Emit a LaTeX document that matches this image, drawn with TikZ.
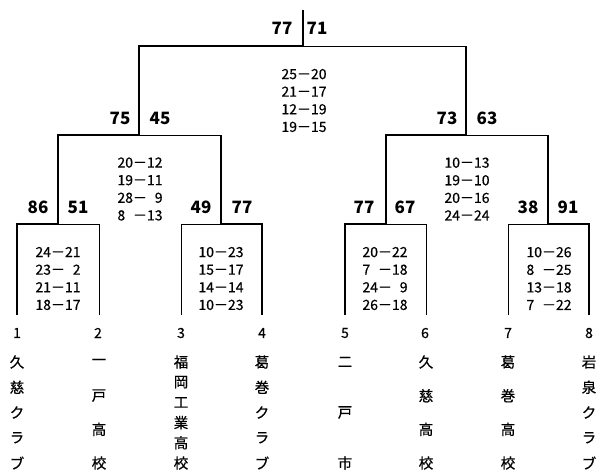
\documentclass[tikz,border=0pt]{standalone}
\usepackage{fontspec}
\setmainfont{Noto Sans CJK JP}
\newfontfamily\setfont{Noto Sans CJK JP}[FakeBold=0.5]
\newsavebox\ddbox
\newcommand\pl[1]{\sbox\ddbox{00}\makebox[\wd\ddbox][l]{#1}}
\newcommand\pr[1]{\sbox\ddbox{00}\makebox[\wd\ddbox][r]{#1}}
\newcommand\dsh{－}
\newcommand\teamcol[4]{%
  \foreach \c [count=\i from 0] in {#4} {
    \node[nm] (#1-\i) at (#2, {362+\i*101/(#3-1)}) {\c};
  }}
\begin{document}
\begin{tikzpicture}[x=1pt,y=-1pt,
  thickline/.style={line width=2.7pt, line join=miter},
  thinline/.style={line width=1pt},
  win/.style={font=\bfseries\fontsize{17}{17}\selectfont, inner sep=0pt},
  sets/.style={font=\setfont\fontsize{14}{17.6}\selectfont, align=left, inner sep=0pt},
  nm/.style={font=\setfont\fontsize{14.5}{14.5}\selectfont, inner sep=0pt},
  num/.style={font=\setfont\fontsize{14}{14}\selectfont, inner sep=0pt}]
\useasboundingbox (0,0) rectangle (599,471);
% coordinates
\coordinate (t1) at (17,315);  \coordinate (t2) at (99,315);
\coordinate (t3) at (181,315); \coordinate (t4) at (262,315);
\coordinate (t5) at (345,315); \coordinate (t6) at (426,315);
\coordinate (t7) at (508,315); \coordinate (t8) at (589,315);
\coordinate (m12) at (58,224);  \coordinate (m34) at (221,224);
\coordinate (m56) at (386,224); \coordinate (m78) at (548,224);
\coordinate (s1) at (139,135);  \coordinate (s2) at (466,135);
\coordinate (f) at (303,46);    \coordinate (top) at (303,10);
% thin lines (losers)
\draw[thinline] (t2) |- (m12);
\draw[thinline] (t3) |- (m34);
\draw[thinline] (t6) |- (m56);
\draw[thinline] (t7) |- (m78);
\draw[thinline] (m34 |- s1) -- (s1);
\draw[thinline] (m78 |- s2) -- (s2);
\draw[thinline] (s2 |- f) -- (f);
% thick lines (winners)
\draw[thickline] (t1) |- (m12) |- (s1) |- (f) -- (top);
\draw[thickline] (t4) |- (m34) -- (m34 |- s1);
\draw[thickline] (t5) |- (m56) |- (s2) -- (s2 |- f);
\draw[thickline] (t8) |- (m78) -- (m78 |- s2);
% match scores
\node[win] (w0a) at (282,28) {77};  \node[win] (w0b) at (317,28) {71};
\node[win] (w1a) at (120,118) {75}; \node[win] (w1b) at (160,118) {45};
\node[win] (w2a) at (447,118) {73}; \node[win] (w2b) at (487,118) {63};
\node[win] (w3a) at (38,207) {86};  \node[win] (w3b) at (78,207) {51};
\node[win] (w4a) at (201,207) {49}; \node[win] (w4b) at (242,207) {77};
\node[win] (w5a) at (364,207) {77}; \node[win] (w5b) at (405,207) {67};
\node[win] (w6a) at (528,207) {38}; \node[win] (w6b) at (568,207) {91};
% set scores
\node[sets] (sF) at (304,100.5) {\pr{25}\dsh\pr{20}\\\pr{21}\dsh\pr{17}\\\pr{12}\dsh\pr{19}\\\pr{19}\dsh\pr{15}};
\node[sets] (sL) at (140,189) {\pr{20}\dsh\pr{12}\\\pr{19}\dsh\pr{11}\\\pr{28}\dsh\pr{9}\\\pl{8}\dsh\pr{13}};
\node[sets] (sR) at (467,189) {\pr{10}\dsh\pr{13}\\\pr{19}\dsh\pr{10}\\\pr{20}\dsh\pr{16}\\\pr{24}\dsh\pr{24}};
\node[sets] (q1) at (58,278.5) {\pr{24}\dsh\pr{21}\\\pr{23}\dsh\pr{2}\\\pr{21}\dsh\pr{11}\\\pr{18}\dsh\pr{17}};
\node[sets] (q2) at (221,278.5) {\pr{10}\dsh\pr{23}\\\pr{15}\dsh\pr{17}\\\pr{14}\dsh\pr{14}\\\pr{10}\dsh\pr{23}};
\node[sets] (q3) at (385,278.5) {\pr{20}\dsh\pr{22}\\\pl{7}\dsh\pr{18}\\\pr{24}\dsh\pr{9}\\\pr{26}\dsh\pr{18}};
\node[sets] (q4) at (549,278.5) {\pr{10}\dsh\pr{26}\\\pl{8}\dsh\pr{25}\\\pr{13}\dsh\pr{18}\\\pl{7}\dsh\pr{22}};
% team numbers
\node[num] (n1) at (17,333) {1};  \node[num] (n2) at (98,333) {2};
\node[num] (n3) at (181,333) {3}; \node[num] (n4) at (262,333) {4};
\node[num] (n5) at (345,333) {5}; \node[num] (n6) at (425,333) {6};
\node[num] (n7) at (508,333) {7}; \node[num] (n8) at (589,333) {8};
% team names
\teamcol{a}{17}{5}{久,慈,ク,ラ,ブ}
\teamcol{b}{99}{4}{一,戸,高,校}
\teamcol{c}{181}{6}{福,岡,工,業,高,校}
\teamcol{d}{262}{5}{葛,巻,ク,ラ,ブ}
\teamcol{e}{345}{3}{二,戸,市}
\teamcol{f}{426}{4}{久,慈,高,校}
\teamcol{g}{508}{4}{葛,巻,高,校}
\teamcol{h}{589}{5}{岩,泉,ク,ラ,ブ}
\end{tikzpicture}
\end{document}
